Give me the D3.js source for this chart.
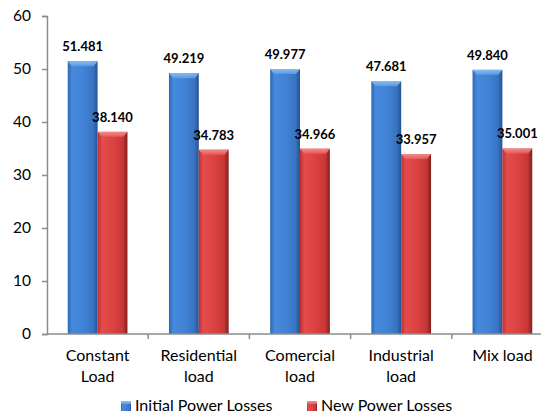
<!DOCTYPE html>
<html>
<head>
<meta charset="utf-8">
<script src="https://cdn.jsdelivr.net/npm/d3@7"></script>
<style>
  body { margin: 0; background: #fff; }
  text { font-family: Lato, "Open Sans", sans-serif; }
</style>
</head>
<body>
<svg id="chart" width="541" height="415"></svg>
<script>
// data
var categories = ["Constant Load", "Residential load", "Comercial load", "Industrial load", "Mix load"]
var catLines = [["Constant", "Load"], ["Residential", "load"], ["Comercial", "load"], ["Industrial", "load"], ["Mix load"]]
var seriesNames = ["Initial Power Losses", "New Power Losses"]
var initialLosses = [51.481, 49.219, 49.977, 47.681, 49.840]
var newLosses = [38.140, 34.783, 34.966, 33.957, 35.001]
var yTicks = [0, 10, 20, 30, 40, 50, 60]

var dimensions = {
  width: 541,
  height: 415,
  margin: { top: 16, bottom: 81, left: 47, right: -12 }
}

var svg = d3.select("#chart")

var defs = svg.append("defs")
var looks = [
  { id: "blue", stops: ["#3066b0", "#468ade", "#4182d4", "#3873c2", "#245393"], cap: ["#8fc3f7", "#5c9ae4"] },
  { id: "red", stops: ["#bb3131", "#e44c4c", "#db4141", "#c73636", "#801f1f"], cap: ["#f79292", "#e65c5c"] }
]
looks.forEach(function(l) {
  var g = defs.append("linearGradient").attr("id", "body-" + l.id)
    .attr("x1", "0%").attr("x2", "100%").attr("y1", "0%").attr("y2", "0%")
  var offs = [0, 0.15, 0.55, 0.85, 1]
  l.stops.forEach(function(c, i) {
    g.append("stop").attr("offset", offs[i]).attr("stop-color", c)
  })
  var c = defs.append("linearGradient").attr("id", "cap-" + l.id)
    .attr("x1", "0%").attr("x2", "0%").attr("y1", "0%").attr("y2", "100%")
  c.append("stop").attr("offset", 0).attr("stop-color", l.cap[0])
  c.append("stop").attr("offset", 1).attr("stop-color", l.cap[1])
})

var xScale = d3.scaleBand()
  .domain(categories)
  .range([dimensions.margin.left, dimensions.width - dimensions.margin.right])
  .paddingInner(0.41)
  .paddingOuter(0.205)

var xInner = d3.scaleBand()
  .domain(seriesNames)
  .range([0, xScale.bandwidth()])

var yScale = d3.scaleLinear()
  .domain([0, 60])
  .range([dimensions.height - dimensions.margin.bottom, dimensions.margin.top])

// y axis
var yAxisGen = d3.axisLeft(yScale).tickValues(yTicks).tickSize(5).tickPadding(11)
var yAxis = svg.append("g")
  .attr("transform", "translate(" + dimensions.margin.left + ",0)")
  .call(yAxisGen)
yAxis.select(".domain").attr("stroke", "#8c8c8c").attr("stroke-width", 1.5)
yAxis.selectAll(".tick line").attr("stroke", "#8c8c8c").attr("stroke-width", 1.5)
yAxis.selectAll(".tick text").attr("font-size", 15.5).attr("fill", "#000")
  .style("font-family", "Lato, sans-serif")

// bars
var rows = categories.map(function(c, i) {
  return [
    { cat: c, series: seriesNames[0], value: initialLosses[i], look: "blue" },
    { cat: c, series: seriesNames[1], value: newLosses[i], look: "red" }
  ]
})

var groups = svg.append("g")
  .selectAll("g")
  .data(rows)
  .enter()
  .append("g")
  .attr("transform", d => "translate(" + xScale(d[0].cat) + ",0)")

var bars = groups.selectAll("g.bar")
  .data(d => d)
  .enter()
  .append("g")
  .attr("class", "bar")

bars.append("rect")
  .attr("x", d => xInner(d.series))
  .attr("y", d => yScale(d.value))
  .attr("width", xInner.bandwidth())
  .attr("height", d => yScale(0) - yScale(d.value))
  .attr("fill", d => "url(#body-" + d.look + ")")

// bevelled top
bars.append("path")
  .attr("d", function(d) {
    var x0 = xInner(d.series), x1 = x0 + xInner.bandwidth(), y0 = yScale(d.value)
    return "M" + x0 + "," + y0 + "L" + x1 + "," + y0 + "L" + (x1 - 4) + "," + (y0 + 5) +
      "L" + (x0 + 4) + "," + (y0 + 5) + "Z"
  })
  .attr("fill", d => "url(#cap-" + d.look + ")")
  .attr("opacity", 0.9)

bars.append("text")
  .attr("x", d => xInner(d.series) + xInner.bandwidth() / 2)
  .attr("y", d => yScale(d.value) - 10)
  .attr("text-anchor", "middle")
  .attr("font-size", 13)
  .attr("font-weight", "bold")
  .text(d => d.value.toFixed(3))

// x axis
var xAxis = svg.append("g")
xAxis.append("line")
  .attr("x1", dimensions.margin.left).attr("x2", dimensions.width)
  .attr("y1", yScale(0)).attr("y2", yScale(0))
  .attr("stroke", "#8c8c8c").attr("stroke-width", 1.5)
var step = xScale.step()
var bounds = categories.slice(1).map(c => xScale(c) - (step - xScale.bandwidth()) / 2)
xAxis.selectAll("line.tick")
  .data(bounds)
  .enter()
  .append("line")
  .attr("class", "tick")
  .attr("x1", d => d).attr("x2", d => d)
  .attr("y1", yScale(0)).attr("y2", yScale(0) + 5)
  .attr("stroke", "#8c8c8c").attr("stroke-width", 1.5)

xAxis.selectAll("text")
  .data(categories)
  .enter()
  .append("text")
  .attr("x", d => xScale(d) + xScale.bandwidth() / 2)
  .attr("y", 361)
  .attr("text-anchor", "middle")
  .attr("font-size", 16)
  .each(function(d, i) {
    var t = d3.select(this)
    catLines[i].forEach(function(line, j) {
      t.append("tspan")
        .attr("x", xScale(d) + xScale.bandwidth() / 2)
        .attr("dy", j == 0 ? 0 : 21)
        .text(line)
    })
  })

// legend
var legendX = [121, 307]
var legend = svg.append("g")
  .selectAll("g")
  .data(seriesNames)
  .enter()
  .append("g")
  .attr("transform", (d, i) => "translate(" + legendX[i] + ",401)")
legend.append("rect")
  .attr("width", 10).attr("height", 10)
  .attr("fill", (d, i) => "url(#body-" + looks[i].id + ")")
legend.append("rect")
  .attr("width", 10).attr("height", 3)
  .attr("fill", (d, i) => "url(#cap-" + looks[i].id + ")")
legend.append("text")
  .attr("x", 14)
  .attr("y", 10)
  .attr("font-size", 16)
  .text(d => d)
</script>
</body>
</html>
